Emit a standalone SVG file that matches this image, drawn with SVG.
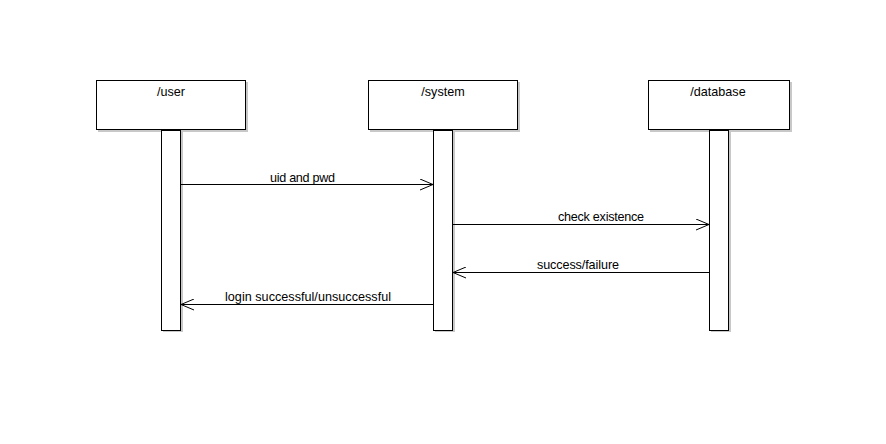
<svg xmlns="http://www.w3.org/2000/svg" width="886" height="444" viewBox="0 0 886 444">
<defs>
<style>
.box{fill:#fff;stroke:#000;stroke-width:1}
.sh{fill:#c8c8c8}
.t{font-family:"Liberation Sans",Arial,sans-serif;font-size:12.6px;fill:#000}
.msg{stroke:#000;stroke-width:1;fill:none}
</style>
<marker id="open" viewBox="0 0 14 12" refX="14" refY="6" markerWidth="14" markerHeight="12" markerUnits="userSpaceOnUse" orient="auto">
<path d="M1,0.5 L14,6 L1,11.5" fill="none" stroke="#000" stroke-width="1"/>
</marker>
</defs>
<rect width="886" height="444" fill="#fff"/>
<g id="user">
<rect class="sh" x="98" y="82" width="150" height="50"/>
<rect class="box" x="96.5" y="80.5" width="149" height="49"/>
<rect class="sh" x="163" y="132" width="20" height="200"/>
<rect class="box" x="161.5" y="130.5" width="19" height="200"/>
<text class="t" x="171" y="96" text-anchor="middle">/user</text>
</g>
<g id="system">
<rect class="sh" x="370" y="82" width="150" height="50"/>
<rect class="box" x="368.5" y="80.5" width="149" height="49"/>
<rect class="sh" x="435" y="132" width="20" height="200"/>
<rect class="box" x="433.5" y="130.5" width="19" height="200"/>
<text class="t" x="443" y="96" text-anchor="middle">/system</text>
</g>
<g id="database">
<rect class="sh" x="650" y="82" width="142" height="50"/>
<rect class="box" x="648.5" y="80.5" width="141" height="49"/>
<rect class="sh" x="711" y="132" width="20" height="200"/>
<rect class="box" x="709.5" y="130.5" width="19" height="200"/>
<text class="t" x="718" y="96" text-anchor="middle">/database</text>
</g>
<g id="connectors">
<line class="msg" x1="181" y1="184.5" x2="433" y2="184.5" marker-end="url(#open)"/>
<text class="t" x="270" y="182" textLength="65">uid and pwd</text>
<line class="msg" x1="453" y1="224.5" x2="709" y2="224.5" marker-end="url(#open)"/>
<text class="t" x="558" y="221" textLength="86">check existence</text>
<line class="msg" x1="709" y1="272.5" x2="453" y2="272.5" marker-end="url(#open)"/>
<text class="t" x="537" y="269" textLength="82">success/failure</text>
<line class="msg" x1="433" y1="304.5" x2="181" y2="304.5" marker-end="url(#open)"/>
<text class="t" x="225" y="301" textLength="166">login successful/unsuccessful</text>
</g>
</svg>
